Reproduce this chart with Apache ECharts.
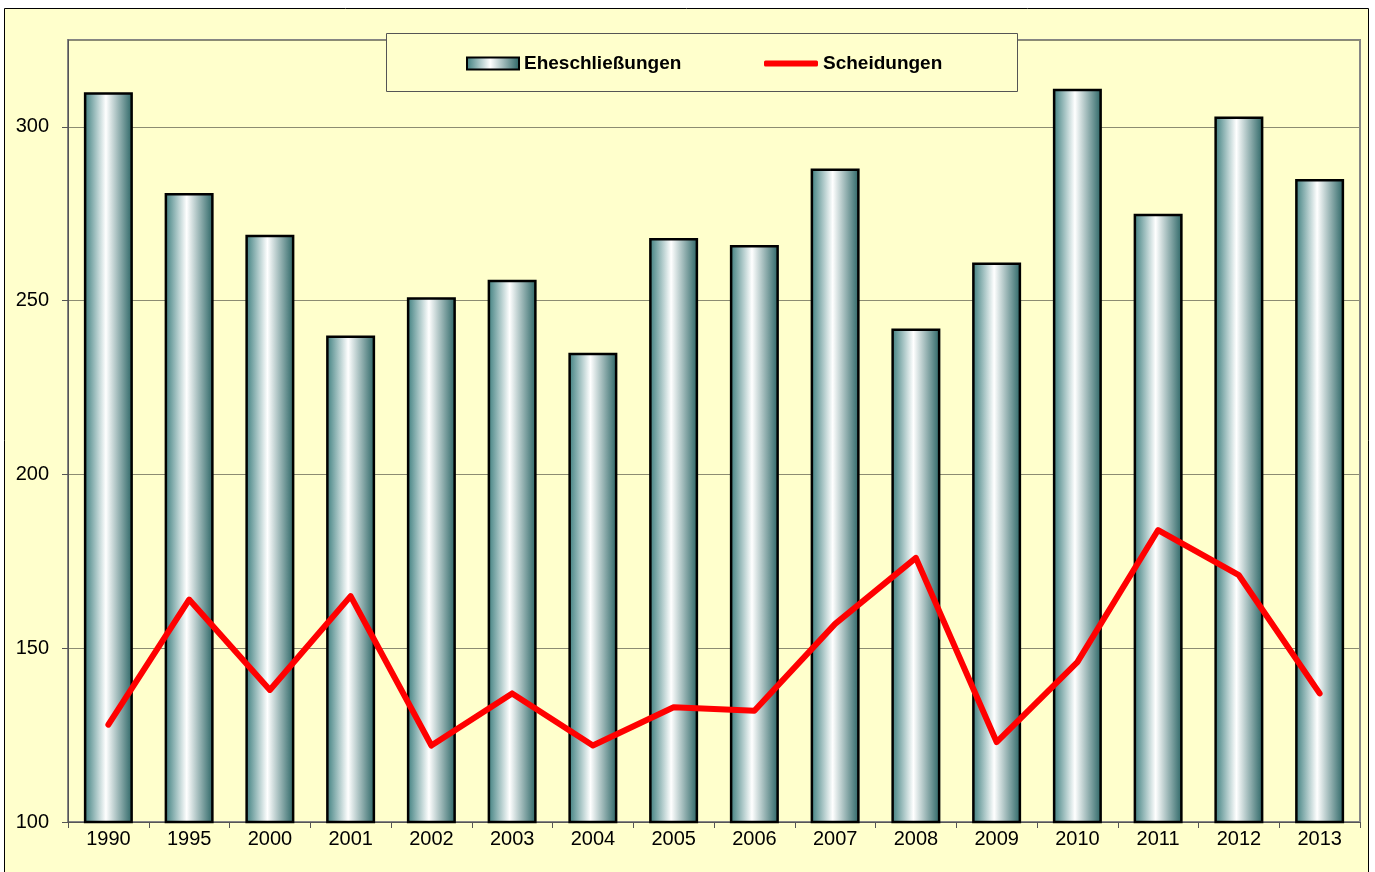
<!DOCTYPE html>
<html>
<head>
<meta charset="utf-8">
<script src="https://cdn.jsdelivr.net/npm/echarts@6/dist/echarts.min.js"></script>
<style>
  body { margin: 0; background: #fff; }
  #chart { width: 1375px; height: 872px; }
</style>
</head>
<body>
<div id="chart"></div>
<script>
// Eheschließungen / Scheidungen

const years = ['1990', '1995', '2000', '2001', '2002', '2003', '2004', '2005',
  '2006', '2007', '2008', '2009', '2010', '2011', '2012', '2013'];
const marriages = [310, 281, 269, 240, 251, 256, 235, 268, 266, 288, 242, 261, 311, 275, 303, 285];
const divorces = [128, 164, 138, 165, 122, 137, 122, 133, 132, 157, 176, 123, 146, 184, 171, 137];

const chart = echarts.init(document.getElementById('chart'));

const barFill = new echarts.graphic.LinearGradient(0, 0, 1, 0, [
  { offset: 0, color: '#3a7c7c' },
  { offset: 0.45, color: '#ffffff' },
  { offset: 1, color: '#276262' }
]);

const legendText = { fontSize: 19, fontWeight: 'bold', color: '#000' };

const option = {
  animation: false,
  textStyle: { fontFamily: 'Liberation Sans, Arial, sans-serif' },
  graphic: [
    {
      type: 'rect',
      z: -10,
      shape: { x: 4.5, y: 8.5, width: 1364, height: 880 },
      style: { fill: '#ffffcc', stroke: '#000', lineWidth: 1 }
    },
    {
      type: 'rect',
      z: 3,
      shape: { x: 386.5, y: 33.5, width: 631, height: 58 },
      style: { fill: '#ffffcc', stroke: '#555', lineWidth: 1 }
    }
  ],
  grid: {
    left: 68, top: 40, right: 15, bottom: 50,
    show: true, borderColor: '#858585', borderWidth: 2
  },
  legend: [
    {
      left: 466, top: 54, padding: 0,
      itemWidth: 52, itemHeight: 12, itemGap: 0,
      textStyle: legendText,
      data: [{ name: 'Eheschließungen', icon: 'rect' }]
    },
    {
      left: 764, top: 54, padding: 0,
      itemWidth: 54, itemHeight: 6, itemGap: 0,
      textStyle: legendText,
      data: [{ name: 'Scheidungen', icon: 'roundRect', itemStyle: { color: '#ff0000', borderWidth: 0 } }]
    }
  ],
  xAxis: {
    type: 'category',
    data: years,
    axisLine: { lineStyle: { color: '#555', width: 1 } },
    axisTick: { show: true, length: 6, lineStyle: { color: '#555' } },
    axisLabel: { fontSize: 20, color: '#000', margin: 7 }
  },
  yAxis: {
    type: 'value',
    min: 100, max: 325, interval: 50,
    axisLine: { show: true, lineStyle: { color: '#555', width: 1 } },
    axisTick: { show: true, length: 6, lineStyle: { color: '#555' } },
    axisLabel: { fontSize: 20, color: '#000', margin: 19, showMaxLabel: false },
    splitLine: { lineStyle: { color: '#8c8c72', width: 1 } }
  },
  series: [
    {
      name: 'Eheschließungen',
      type: 'bar',
      data: marriages,
      barWidth: 49,
      itemStyle: { color: barFill, borderColor: '#000', borderWidth: 2.5 }
    },
    {
      name: 'Scheidungen',
      type: 'line',
      data: divorces,
      showSymbol: false,
      symbol: 'none',
      color: '#ff0000',
      lineStyle: { color: '#ff0000', width: 6, cap: 'round', join: 'round' }
    }
  ]
};

chart.setOption(option);
</script>
</body>
</html>
